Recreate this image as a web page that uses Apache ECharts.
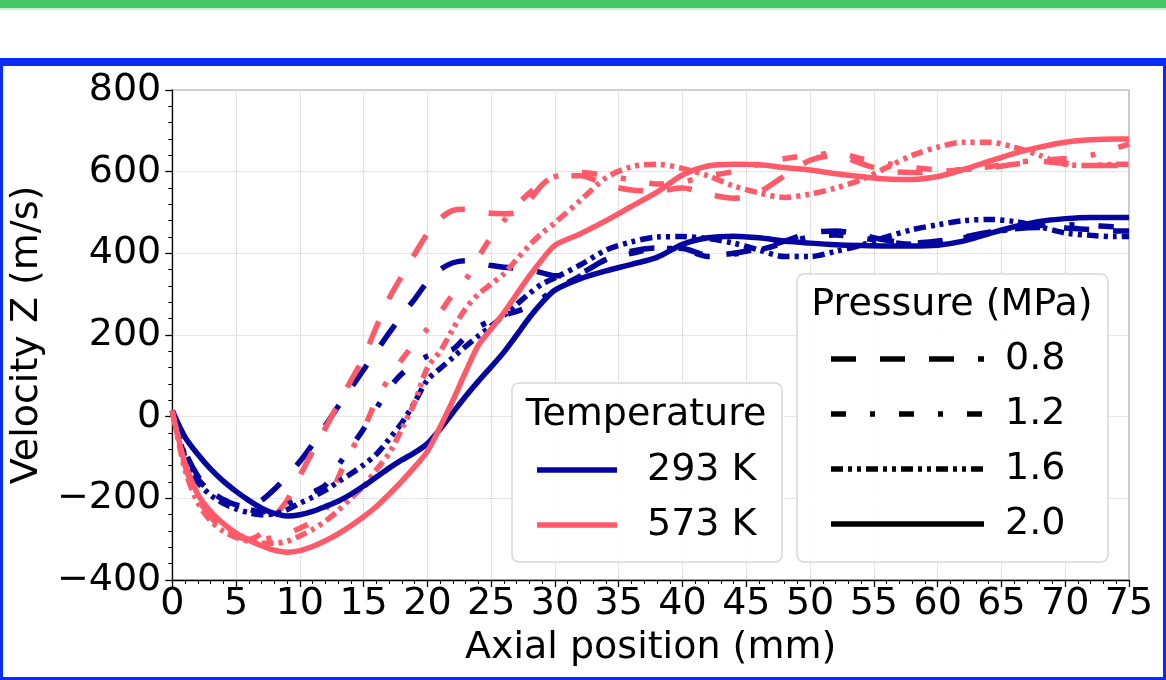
<!DOCTYPE html>
<html>
<head>
<meta charset="utf-8">
<script src="https://cdn.jsdelivr.net/npm/echarts@6/dist/echarts.min.js"></script>
<style>
  html, body { margin: 0; padding: 0; background: #ffffff; width: 1166px; height: 680px; overflow: hidden; }
  #topbar { position: absolute; left: 0; top: 0; width: 1166px; height: 8px; background: #44c866; }
  #topbar2 { position: absolute; left: 0; top: 8px; width: 1166px; height: 2px; background: #c6efd0; }
  #frame { position: absolute; left: 0; top: 58px; width: 1166px; height: 622px; box-sizing: border-box;
           border: 3px solid #0a2bff; border-top-width: 8px; }
  #chart { position: absolute; left: 0; top: 0; width: 1166px; height: 680px; }
</style>
</head>
<body>
<div id="topbar"></div>
<div id="topbar2"></div>
<div id="frame"></div>
<div id="chart"></div>
<script>
// Axial positions (mm)
const axialPos = [0,1,2,3,4,5,6,7,8,9,10,11,12,13,14,15,16,17,18,19,20,21,22,23,24,25,26,27,28,29,30,
  32,34,36,38,40,42,44,46,48,50,52,54,56,58,60,62,64,66,68,70,72,74,75];

// Velocity Z (m/s), 293 K
const v293_p08 = [15,-85,-145,-182,-203,-216,-220,-205,-178,-145,-110,-68,-22,25,70,115,160,205,248,288,330,360,377,382,376,370,366,363,360,352,345,
  352,385,405,413,412,395,400,412,430,450,455,445,432,425,430,440,452,460,463,462,458,455,455];
const v293_p12 = [15,-95,-152,-183,-203,-217,-227,-233,-228,-215,-200,-185,-168,-120,-75,-30,20,70,105,130,148,155,165,195,220,235,248,258,270,290,312,
  345,385,400,412,410,392,398,408,425,440,445,438,428,422,428,438,450,460,468,470,468,465,465];
const v293_p16 = [15,-100,-160,-192,-212,-226,-235,-240,-238,-228,-212,-197,-180,-160,-140,-118,-92,-55,-15,35,90,118,145,172,198,222,248,275,302,325,340,
  372,408,428,440,441,436,425,408,392,392,405,420,440,458,470,480,483,478,465,450,444,441,441];
const v293_p20 = [15,-50,-92,-128,-158,-183,-205,-224,-237,-243,-240,-232,-220,-207,-190,-170,-148,-126,-106,-88,-66,-30,10,50,87,122,158,200,243,280,310,
  338,357,373,390,422,438,442,438,430,425,421,419,418,418,420,430,448,465,478,485,488,488,488];

// Velocity Z (m/s), 573 K
const v573_p08 = [15,-120,-200,-245,-275,-292,-300,-285,-245,-205,-145,-85,-28,30,88,145,220,290,345,398,448,485,505,508,502,498,497,500,530,568,588,
  590,568,555,553,560,545,535,550,590,628,640,620,602,598,600,605,610,618,625,620,615,615,615];
const v573_p12 = [15,-110,-190,-238,-268,-288,-297,-300,-296,-287,-273,-258,-230,-150,-85,-30,40,95,140,180,215,255,300,335,390,440,480,518,548,572,588,
  598,590,580,570,575,590,600,618,632,640,645,632,620,610,605,605,612,622,628,632,640,658,668];
const v573_p16 = [15,-130,-210,-255,-280,-296,-305,-310,-310,-305,-292,-276,-256,-230,-200,-170,-130,-90,-30,35,120,160,215,265,300,325,350,385,420,450,475,
  530,585,612,618,608,590,565,548,537,545,560,580,610,640,660,672,672,660,640,618,615,618,618];
const v573_p20 = [15,-115,-190,-232,-262,-285,-302,-316,-327,-332,-328,-318,-304,-287,-267,-245,-220,-190,-158,-123,-85,-25,40,110,175,215,255,300,345,385,420,
  448,480,515,550,592,614,618,617,610,604,595,588,582,581,588,605,625,645,660,672,678,680,680];

const temperatures = ['293 K', '573 K'];
const pressures = ['0.8', '1.2', '1.6', '2.0'];
const xTicks = [0,5,10,15,20,25,30,35,40,45,50,55,60,65,70,75];
const yTicks = [-400,-200,0,200,400,600,800];

const colors = { '293 K': '#0505a0', '573 K': '#ff5a6a' };
const dashes = { '0.8': [25, 24], '1.2': [15, 24, 5, 24], '1.6': [12, 5, 4, 5, 4, 5], '2.0': 'solid' };
const seriesValues = {
  '293 K': { '0.8': v293_p08, '1.2': v293_p12, '1.6': v293_p16, '2.0': v293_p20 },
  '573 K': { '0.8': v573_p08, '1.2': v573_p12, '1.6': v573_p16, '2.0': v573_p20 }
};

const FONT = 'DejaVu Sans';
const FS = 38;
const LW = 5.5;
const series = [];
pressures.forEach(p => {
  temperatures.forEach(t => {
    series.push({
      name: t + ' / ' + p + ' MPa',
      type: 'line',
      showSymbol: false,
      symbol: 'none',
      smooth: 0.3,
      silent: true,
      animation: false,
      data: axialPos.map((x, i) => [x, seriesValues[t][p][i]]),
      lineStyle: { color: colors[t], width: LW, type: dashes[p], cap: 'butt' },
      z: 3
    });
  });
});

const minusFmt = v => String(v).replace('-', '\u2212');

// Legend graphics (layout only)
const legendGraphics = [];
function box(x, y, w, h) {
  legendGraphics.push({ type: 'rect', z: 100, shape: { x: x, y: y, width: w, height: h, r: 7 },
    style: { fill: 'rgba(255,255,255,0.9)', stroke: '#d8d8d8', lineWidth: 1.5 } });
}
function txt(s, x, y, align) {
  legendGraphics.push({ type: 'text', z: 101, x: x, y: y,
    style: { text: s, font: FS + 'px "' + FONT + '"', fill: '#000', align: align, verticalAlign: 'middle' } });
}
function sample(x1, x2, y, color, dash) {
  legendGraphics.push({ type: 'line', z: 101, shape: { x1: x1, y1: y, x2: x2, y2: y },
    style: { stroke: color, lineWidth: LW, lineDash: dash === 'solid' ? null : dash, lineCap: 'butt' } });
}
box(512, 383, 270, 179);
txt('Temperature', 646, 415, 'center');
temperatures.forEach((t, i) => {
  const y = 470 + i * 55;
  sample(537, 617, y, colors[t], 'solid');
  txt(t, 647, y, 'left');
});
box(797, 274, 311, 288);
txt('Pressure (MPa)', 952, 305, 'center');
pressures.forEach((p, i) => {
  const y = 359 + i * 55;
  sample(831, 984, y, '#000', dashes[p]);
  txt(p, 1005, y, 'left');
});

const chart = echarts.init(document.getElementById('chart'), null, { renderer: 'canvas' });
chart.setOption({
  animation: false,
  backgroundColor: 'transparent',
  grid: { left: 166, top: 90, width: 963, height: 490, show: true, borderColor: '#a8a8a8', borderWidth: 1.2, backgroundColor: 'transparent' },
  xAxis: {
    type: 'value', min: xTicks[0], max: xTicks[xTicks.length - 1], interval: 5,
    name: 'Axial position (mm)', nameLocation: 'middle', nameGap: 49,
    nameTextStyle: { fontFamily: FONT, fontSize: FS, color: '#000' },
    axisLine: { show: true, onZero: false, lineStyle: { color: '#000', width: 1.3 } },
    axisTick: { show: true, length: 7, lineStyle: { color: '#000', width: 1.3 } },
    minorTick: { show: true, splitNumber: 5, length: 4, lineStyle: { color: '#000', width: 1 } },
    splitLine: { show: true, lineStyle: { color: '#cccccc', type: 'dotted', width: 1 } },
    axisLabel: { fontFamily: FONT, fontSize: FS, color: '#000', margin: 5, formatter: minusFmt }
  },
  yAxis: {
    type: 'value', min: yTicks[0], max: yTicks[yTicks.length - 1], interval: 200,
    name: 'Velocity Z (m/s)', nameLocation: 'middle', nameGap: 114, nameRotate: 90,
    nameTextStyle: { fontFamily: FONT, fontSize: FS, color: '#000' },
    axisLine: { show: true, onZero: false, lineStyle: { color: '#000', width: 1.3 } },
    axisTick: { show: true, length: 7, lineStyle: { color: '#000', width: 1.3 } },
    minorTick: { show: true, splitNumber: 5, length: 4, lineStyle: { color: '#000', width: 1 } },
    splitLine: { show: true, lineStyle: { color: '#cccccc', type: 'dotted', width: 1 } },
    axisLabel: { fontFamily: FONT, fontSize: FS, color: '#000', margin: 11, formatter: minusFmt }
  },
  series: series,
  graphic: { elements: legendGraphics }
});
</script>
</body>
</html>
